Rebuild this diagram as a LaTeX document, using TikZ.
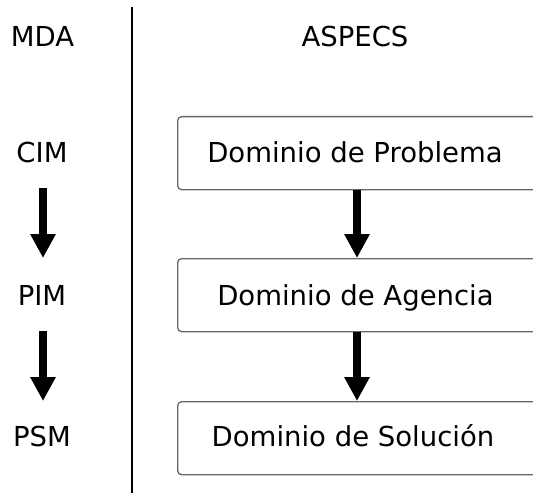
\documentclass[tikz,border=0pt]{standalone}
\usepackage{fontspec}
\setmainfont{DejaVu Sans}
\usetikzlibrary{arrows.meta}
\begin{document}
\begin{tikzpicture}[x=1bp,y=-1bp,
  lbl/.style={inner sep=0pt, font=\fontsize{27.5bp}{33bp}\selectfont, anchor=base},
  box/.style={draw=black!60, line width=1.3bp, rounded corners=4bp, minimum width=390bp, minimum height=73bp, inner sep=0pt, anchor=north west},
  bigarrow/.style={line width=8bp, -{Triangle[width=24bp,length=24bp]}},
  divider/.style={line width=1.3bp, black}]
\useasboundingbox (0,0) rectangle (533,493);
\clip (0,0) rectangle (533,493);
% column titles
\node[lbl] (mda) at (42.5,47) {MDA};
\node[lbl] (aspecs) at (355,47) {ASPECS};
% left labels
\node[lbl] (cim) at (42,163) {CIM};
\node[lbl] (pim) at (42,305) {PIM};
\node[lbl] (psm) at (42,446) {PSM};
% boxes
\node[box] (b1) at (177,116) {};
\node[box] (b2) at (177,258) {};
\node[box] (b3) at (177,401) {};
\node[lbl] (t1) at (355,163) {Dominio de Problema};
\node[lbl] (t2) at (355.5,305) {Dominio de Agencia};
\node[lbl] (t3) at (353,446) {Dominio de Solución};
% divider
\coordinate (dtop) at (132,7);
\coordinate (dbot) at (132,493);
\draw[divider] (dtop) -- (dbot);
% right arrows
\draw[bigarrow] (b1.south west) ++(180,0) coordinate (a1s) -- (a1s |- b2.north);
\draw[bigarrow] (b2.south west) ++(180,0) coordinate (a2s) -- (a2s |- b3.north);
% left arrows
\coordinate (l1s) at (43,188);
\coordinate (l1e) at (43,258);
\coordinate (l2s) at (43,331);
\coordinate (l2e) at (43,401);
\draw[bigarrow] (l1s) -- (l1e);
\draw[bigarrow] (l2s) -- (l2e);
\end{tikzpicture}
\end{document}
